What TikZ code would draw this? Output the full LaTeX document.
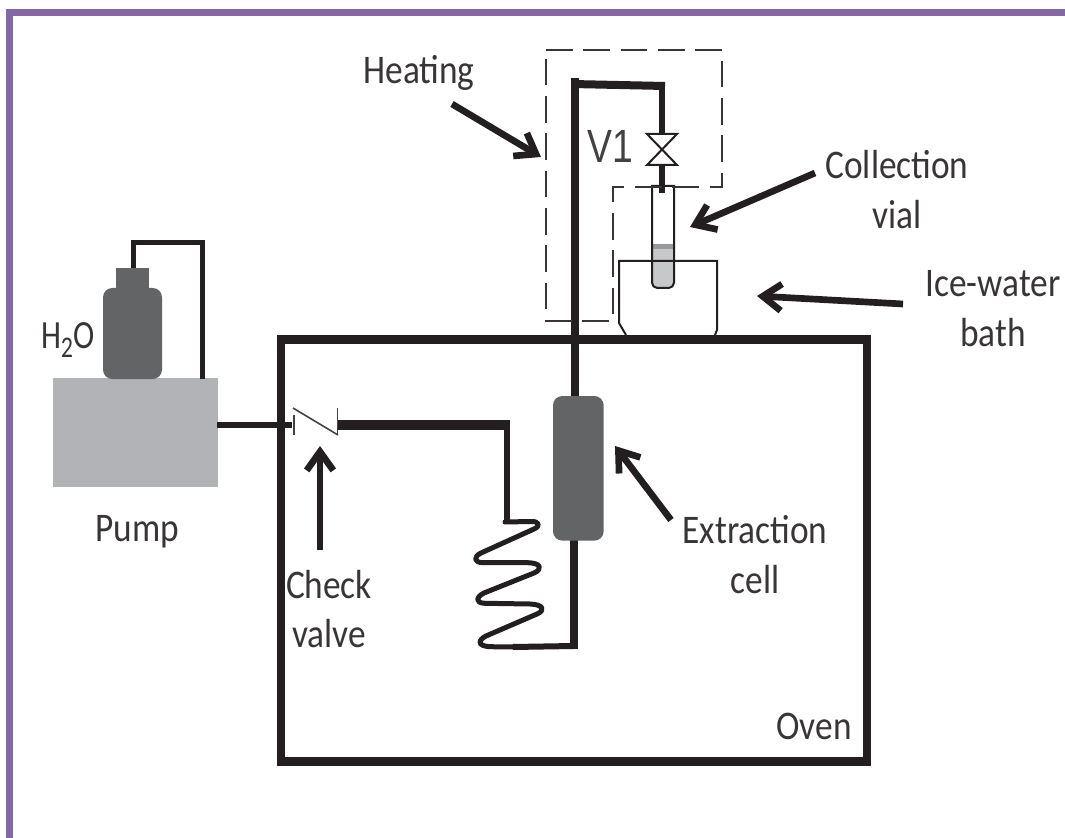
\documentclass[tikz,border=0pt]{standalone}
\usepackage{fontspec}
\setmainfont{Carlito}
\newfontfamily\vfont{Liberation Sans}
\usetikzlibrary{arrows.meta}
\definecolor{ink}{HTML}{231F20}
\definecolor{framec}{HTML}{8468A5}
\definecolor{pumpc}{HTML}{B1B3B6}
\definecolor{darkc}{HTML}{636466}
\definecolor{liquidc}{HTML}{C7C8CA}
\definecolor{bandc}{HTML}{98999C}
\newcommand\talltext[1]{\scalebox{1}[1.15]{\begin{tabular}{@{}c@{}}#1\end{tabular}}}
\tikzset{
 lbl/.style={font=\fontsize{26.5}{32.6}\selectfont,text=ink!90,align=center,inner sep=0pt},
 thin line/.style={line width=1.5pt,draw=ink},
 dashbox/.style={line width=1.2pt,draw=ink!90,dash pattern=on 20pt off 8pt},
 callout/.style={line width=5pt,draw=ink,-{Straight Barb[length=14pt,width=20pt,line width=5pt]}},
}
\begin{document}
\begin{tikzpicture}[x=0.75pt,y=-0.75pt]
\useasboundingbox (0,0) rectangle (1065,838);
\fill[white] (0,0) rectangle (1065,838);
% frame
\fill[framec] (6,9) rectangle (1065,16);
\fill[framec] (6,9) rectangle (13,838);
% pump and bottle
\node[fill=pumpc,minimum width=123.75pt,minimum height=81.75pt,inner sep=0pt,outer sep=0pt,anchor=north west] (pump) at (53,378) {};
\node[lbl,anchor=center] (pumplabel) at (137,532) {\talltext{Pump}};
\coordinate (toppipe) at (133,243);
\coordinate (topright) at (202,243);
\coordinate (pumptop) at (202,379);
\draw[line width=3.75pt,draw=ink,line join=miter] (133,270) -- (toppipe) -- (topright) -- (pumptop);
\fill[darkc] (116,268) rectangle (149,290);
\node[fill=darkc,rounded corners=7pt,minimum width=44.25pt,minimum height=68.25pt,inner sep=0pt,outer sep=0pt,anchor=north west] (bottle) at (103,288) {};
\node[lbl,anchor=center,font=\fontsize{24}{24}\selectfont] (h2o) at (68,340) {\scalebox{1}[1.25]{H\kern-0.5pt\raisebox{-5pt}{\fontsize{18}{18}\selectfont 2}O}};
% oven
\node[draw=ink,line width=6.5pt,minimum width=439.5pt,minimum height=316.5pt,inner sep=0pt,outer sep=0pt,anchor=north west] (oven) at (281,339.5) {};
\node[lbl,anchor=center] (ovenlabel) at (814,729) {\talltext{Oven}};
% check valve line
\coordinate (pumpout) at (217,425);
\coordinate (cvL) at (292,425);
\coordinate (cvR) at (338,425);
\coordinate (coilturn) at (510,425);
\coordinate (coiltop) at (505,522);
\draw[line width=4.5pt,draw=ink] (pumpout) -- (cvL);
\draw[line width=1.2pt,draw=ink!85] (294,415) -- (294,435);
\draw[line width=1.2pt,draw=ink!85] (337.5,408) -- (337.5,434);
\draw[line width=1.2pt,draw=ink!85] (293,408) -- (338,435);
\draw[line width=7.5pt,draw=ink] (cvR) -- (coilturn);
\draw[line width=4.5pt,draw=ink] (507,422) -- (507,523);
% coil
\coordinate (coilend) at (513,647);
\draw[line width=3.75pt,draw=ink,line cap=round,line join=round]
 (coiltop) -- (531,521.5) .. controls (539,521) and (541,526) .. (534,529)
 -- (481,553) .. controls (473,557) and (474,562.5) .. (483,562.7)
 -- (528,562.7) .. controls (541,563) and (543,569) .. (534,573)
 -- (484,593) .. controls (476,597) and (475,603) .. (485,603.3)
 -- (530,604) .. controls (543,604.5) and (546,610) .. (537,614)
 -- (486,636) .. controls (478,640) and (477,646) .. (490,646.7)
 -- (coilend);
% main pipe
\coordinate (bend) at (574,646);
\coordinate (pipetop) at (575,78);
\coordinate (pipetr) at (665,86);
\coordinate (v1top) at (662,134);
\draw[line width=4.5pt,draw=ink] (coilend) -- (bend);
\draw[line width=6pt,draw=ink] (574,649) -- (574,535);
\draw[line width=6pt,draw=ink] (pipetop) -- (575,400);
\draw[line width=6pt,draw=ink] (572,84) -- (pipetr);
\draw[line width=4.5pt,draw=ink] (662,83) -- (v1top);
% extraction cell
\node[fill=darkc,rounded corners=7pt,minimum width=38pt,minimum height=108.5pt,inner sep=0pt,outer sep=0pt,anchor=north west] (cell) at (553,396) {};
% valve V1
\draw[line width=1.5pt,draw=ink,line join=miter] (647,134) -- (677,134) -- (647,165) -- (677,165) -- cycle;
\draw[line width=4pt,draw=ink] (662,165) -- (662,193);
\node[anchor=center,inner sep=0pt,font=\vfont\fontsize{28}{28}\selectfont,text=ink!85] (v1) at (610,146) {\scalebox{1}[1.25]{V1}};
% vial
\fill[liquidc,rounded corners=4pt] (652,244) [sharp corners] -- (674,244) [rounded corners=4pt] -- (674,288) -- (652,288) [sharp corners] -- cycle;
\fill[bandc] (652,244) rectangle (674,249);
\draw[thin line] (652,186) -- (674,186) [rounded corners=4pt] -- (674,288) -- (652,288) [sharp corners] -- cycle;
% bath
\draw[thin line] (626,335) -- (619,323) -- (619,261) -- (717,261) -- (717,330) -- (715,335);
% dashed regions
\draw[dashbox] (546,50) -- (722,50) -- (722,187) -- (613,187) -- (613,321) -- (546,321) -- cycle;
% labels
\node[lbl] (heating) at (419,74) {\talltext{Heating}};
\node[lbl] (collect) at (897,193.5) {\talltext{Collection\\vial}};
\node[lbl] (ice) at (993,311.5) {\talltext{Ice-water\\bath}};
\node[lbl] (checkl) at (329,613) {\talltext{Check\\valve}};
\node[lbl] (extr) at (755,558.5) {\talltext{Extraction\\cell}};
% callouts
\coordinate (h1) at (452,104);
\coordinate (h2) at (541,157);
\coordinate (c1) at (815,173);
\coordinate (c2) at (690,227);
\coordinate (i1) at (903,304);
\coordinate (i2) at (757,296);
\coordinate (k1) at (320,550);
\coordinate (k2) at (320,446);
\coordinate (e1) at (671,520);
\coordinate (e2) at (615,446);
\draw[callout] (h1) -- (h2);
\draw[callout] (c1) -- (c2);
\draw[callout] (i1) -- (i2);
\draw[callout] (k1) -- (k2);
\draw[callout] (e1) -- (e2);
\end{tikzpicture}
\end{document}
